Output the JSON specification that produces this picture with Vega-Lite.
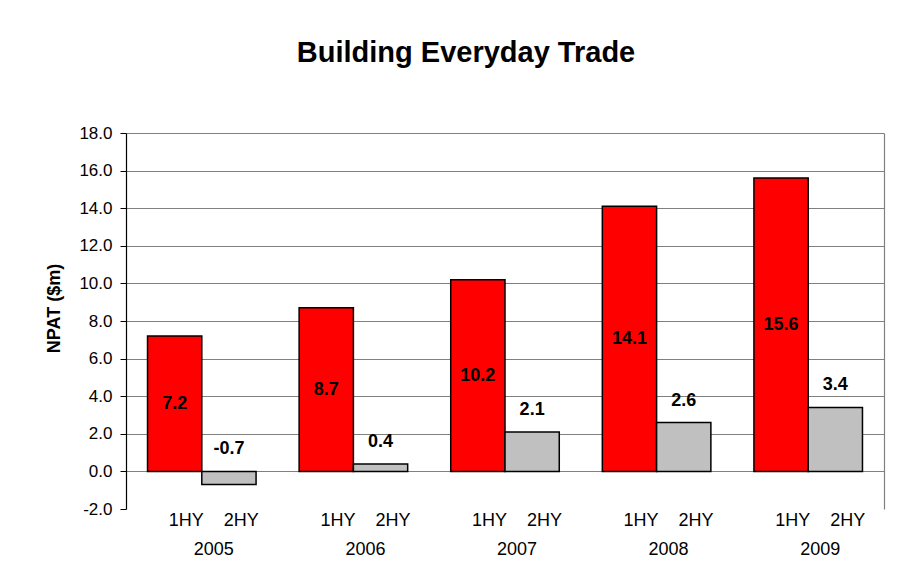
{
  "$schema": "https://vega.github.io/schema/vega-lite/v6.json",
  "width": 758,
  "height": 376,
  "autosize": "none",
  "padding": {"left": 126, "top": 133, "right": 17, "bottom": 57},
  "background": "white",
  "config": {
    "font": "Liberation Sans",
    "view": {"stroke": null}
  },
  "title": {
    "text": "Building Everyday Trade",
    "fontSize": 29,
    "fontWeight": "bold",
    "font": "Liberation Sans",
    "color": "black",
    "anchor": "middle",
    "frame": "group",
    "dx": -39,
    "baseline": "alphabetic",
    "offset": 33
  },
  "data": {
    "values": [
      {"year": "2005", "half": "1HY", "npat": 7.2},
      {"year": "2005", "half": "2HY", "npat": -0.7},
      {"year": "2006", "half": "1HY", "npat": 8.7},
      {"year": "2006", "half": "2HY", "npat": 0.4},
      {"year": "2007", "half": "1HY", "npat": 10.2},
      {"year": "2007", "half": "2HY", "npat": 2.1},
      {"year": "2008", "half": "1HY", "npat": 14.1},
      {"year": "2008", "half": "2HY", "npat": 2.6},
      {"year": "2009", "half": "1HY", "npat": 15.6},
      {"year": "2009", "half": "2HY", "npat": 3.4}
    ]
  },
  "transform": [
    {"calculate": "datum.half == '1HY' ? datum.npat / 2 : max(datum.npat, 0)", "as": "labelPos"},
    {"calculate": "replace(format(datum.npat, '.1f'), '\u2212', '-')", "as": "labelText"}
  ],
  "encoding": {
    "x": {
      "field": "year",
      "type": "nominal",
      "scale": {"paddingInner": 0.284, "paddingOuter": 0.142},
      "axis": {
        "title": null,
        "domain": false,
        "ticks": false,
        "grid": false,
        "labelAngle": 0,
        "labelExpr": "['1HY\u00a0\u00a0\u00a0\u00a02HY', datum.label]",
        "labelFontSize": 18,
        "labelLineHeight": 29,
        "labelPadding": 2,
        "labelOffset": 12,
        "labelColor": "black",
        "labelOverlap": false,
        "labelBaseline": "top"
      }
    },
    "xOffset": {
      "field": "half",
      "type": "nominal",
      "scale": {"paddingInner": 0, "paddingOuter": 0}
    }
  },
  "layer": [
    {
      "mark": {"type": "bar", "stroke": "black", "strokeWidth": 1.5},
      "encoding": {
        "y": {
          "field": "npat",
          "type": "quantitative",
          "scale": {"domain": [-2, 18], "nice": false},
          "axis": {
            "values": [-2, 0, 2, 4, 6, 8, 10, 12, 14, 16, 18],
            "format": ".1f",
            "labelExpr": "replace(datum.label, '\u2212', '-')",
            "labelFontSize": 17,
            "labelColor": "black",
            "labelPadding": 8,
            "tickSize": 6,
            "tickColor": "black",
            "domainColor": "black",
            "domainWidth": 1.2,
            "grid": true,
            "gridColor": {"condition": {"test": "datum.value == -2", "value": "transparent"}, "value": "#808080"},
            "gridWidth": 1,
            "gridOpacity": 1,
            "title": "NPAT ($m)",
            "titleFontSize": 18,
            "titleFontWeight": "bold",
            "titleColor": "black",
            "titleX": -72,
            "titleY": 175,
            "titleBaseline": "middle",
            "titleAlign": "center"
          }
        },
        "color": {
          "field": "half",
          "type": "nominal",
          "scale": {"domain": ["1HY", "2HY"], "range": ["#FF0000", "#C0C0C0"]},
          "legend": null
        }
      }
    },
    {
      "transform": [{"filter": "datum.half == '1HY'"}],
      "mark": {"type": "text", "fontSize": 18, "fontWeight": "bold", "color": "black", "baseline": "middle", "align": "center"},
      "encoding": {
        "y": {"field": "labelPos", "type": "quantitative", "axis": null},
        "text": {"field": "labelText", "type": "nominal"}
      }
    },
    {
      "transform": [{"filter": "datum.half == '2HY'"}],
      "mark": {"type": "text", "fontSize": 18, "fontWeight": "bold", "color": "black", "baseline": "middle", "align": "center", "dy": -22},
      "encoding": {
        "y": {
          "field": "labelPos",
          "type": "quantitative",
          "axis": {"orient": "right", "labels": false, "ticks": false, "grid": false, "title": null, "domainColor": "#808080", "domainWidth": 1.2}
        },
        "text": {"field": "labelText", "type": "nominal"}
      }
    }
  ],
  "resolve": {"axis": {"y": "independent"}}
}
